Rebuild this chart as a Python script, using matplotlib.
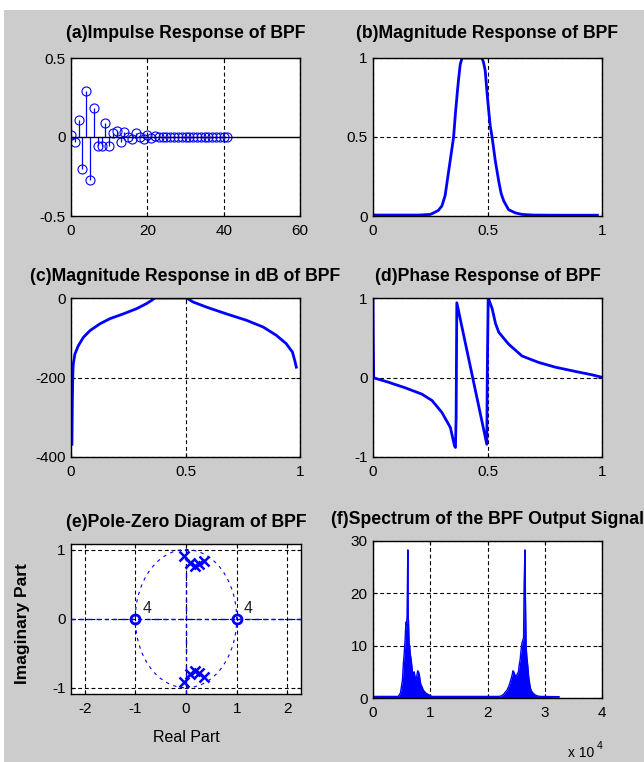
import matplotlib
matplotlib.use('Agg')
import matplotlib.pyplot as plt
import numpy as np
from matplotlib.patches import Rectangle, Circle

plt.rcParams['font.family'] = ['Liberation Sans', 'DejaVu Sans']

# ---------------- data ----------------
# (a) impulse response
h_vals = [0.01, -0.033, 0.105, -0.205, 0.29, -0.275, 0.185, -0.055, -0.06, 0.09,
          -0.06, 0.025, 0.036, -0.033, 0.03, 0.0, -0.015, 0.028, 0.0, -0.01,
          0.01, -0.006, 0.004, -0.003, 0.002, 0.0, 0.0, 0.0, 0.0, 0.0,
          0.0, 0.0, 0.0, 0.0, 0.0, 0.0, 0.0, 0.0, 0.0, 0.0, 0.0, 0.0]
h_n = list(range(len(h_vals)))

# (b) magnitude response
mag_w = [0.0, 0.1, 0.2, 0.25, 0.265, 0.285, 0.301, 0.315, 0.323, 0.335, 0.345, 0.352,
         0.36, 0.368, 0.374, 0.381, 0.389, 0.476, 0.483, 0.49, 0.498, 0.505, 0.512,
         0.52, 0.534, 0.549, 0.56, 0.571, 0.592, 0.621, 0.651, 0.7, 0.8, 0.9, 0.98]
mag_h = [0.006, 0.006, 0.006, 0.01, 0.02, 0.035, 0.064, 0.13, 0.21, 0.33, 0.43, 0.5,
         0.65, 0.78, 0.87, 0.96, 1.0, 1.0, 0.97, 0.92, 0.78, 0.67, 0.57,
         0.5, 0.35, 0.22, 0.14, 0.095, 0.04, 0.02, 0.01, 0.006, 0.005, 0.005, 0.005]

# (c) magnitude response in dB
db_w = [0.004, 0.006, 0.008, 0.01, 0.017, 0.032, 0.054, 0.083, 0.126, 0.17, 0.228,
        0.286, 0.33, 0.352, 0.366, 0.505, 0.533, 0.592, 0.679, 0.766, 0.839, 0.897,
        0.94, 0.967, 0.977, 0.984]
db_h = [-368, -259, -190, -166, -141, -120, -99, -82, -65, -52, -40,
        -27, -14, -6, 0, 0, -10, -23, -40, -56, -73, -94,
        -115, -136, -157, -174]

# (d) phase response (normalised)
ph_w = [0.0, 0.001, 0.003, 0.01, 0.068, 0.141, 0.214, 0.258, 0.301, 0.338, 0.348,
        0.356, 0.36, 0.363, 0.364, 0.366, 0.497, 0.499, 0.503, 0.52, 0.535, 0.549,
        0.592, 0.651, 0.723, 0.796, 0.884, 0.956, 0.993, 1.0]
ph_h = [1.0, 0.5, 0.0, -0.01, -0.06, -0.13, -0.21, -0.29, -0.44, -0.63, -0.76,
        -0.86, -0.88, -0.5, 0.0, 0.94, -0.84, 0.05, 1.0, 0.87, 0.68, 0.57,
        0.42, 0.27, 0.19, 0.13, 0.076, 0.034, 0.008, 0.0]

# (e) poles and zeros
zero_re = [-1.0, 1.0]
zero_im = [0.0, 0.0]
zero_mult = ['4', '4']
pole_re = [-0.04, 0.07, 0.17, 0.26, 0.35, -0.04, 0.07, 0.17, 0.26, 0.35]
pole_im = [0.91, 0.80, 0.76, 0.79, 0.84, -0.91, -0.80, -0.76, -0.79, -0.84]

# (f) spectrum of output signal
spec_f = [0, 4400, 4600, 4800, 5000, 5150, 5300, 5450, 5600, 5750, 5850, 5950, 6080,
          6150, 6200, 6300, 6400, 6500, 6600, 6750, 6900, 7050, 7200, 7350, 7500,
          7650, 7800, 7950, 8100, 8250, 8400, 8550, 8750, 9000, 9300, 9600, 9950,
          10300, 22000, 22400, 22800, 23100, 23400, 23700, 23900, 24100, 24300,
          24450, 24600, 24800, 25000, 25200, 25400, 25550, 25700, 25850, 26000,
          26150, 26300, 26400, 26550, 26620, 26680, 26750, 26900, 27050, 27200,
          27400, 27600, 27900, 28300, 28700, 29200, 32500]
spec_a = [0.3, 0.3, 0.6, 1.0, 2.4, 3.5, 6.5, 8.5, 11.0, 14.5, 14.0, 15.5, 28.3,
          15.2, 14.8, 10.5, 10.0, 8.5, 7.8, 6.5, 5.0, 4.6, 5.0, 4.0, 3.4,
          4.2, 5.2, 5.0, 4.4, 3.2, 2.4, 2.2, 1.6, 1.2, 0.9, 0.7, 0.5,
          0.3, 0.3, 0.4, 0.7, 1.1, 1.5, 2.2, 2.8, 3.6, 4.4,
          5.2, 5.0, 4.4, 4.0, 4.6, 5.0, 6.4, 7.3, 9.0, 10.4,
          11.0, 11.5, 22.0, 28.3, 20.0, 15.0, 9.8, 7.5, 6.0, 4.0,
          2.5, 1.5, 1.0, 0.6, 0.4, 0.3, 0.25]

titles = ['(a)Impulse Response of BPF', '(b)Magnitude Response of BPF',
          '(c)Magnitude Response in dB of BPF', '(d)Phase Response of BPF',
          '(e)Pole-Zero Diagram of BPF', '(f)Spectrum of the BPF Output Signal']

# ---------------- figure ----------------
W, H = 644, 762
fig = plt.figure(figsize=(W / 100, H / 100), dpi=100, facecolor='white')
fig.patches.append(Rectangle((4 / W, 0), 1, 1 - 10 / H, transform=fig.transFigure,
                             facecolor='#cccccc', edgecolor='none', zorder=-10))


def px_axes(l, t, r, b):
    return fig.add_axes([l / W, 1 - b / H, (r - l) / W, (b - t) / H])


BLUE = '#0000ff'
GRID = dict(color='black', linestyle=(0, (3.5, 2.5)), linewidth=0.8)


def style(ax, xt, xl, yt, yl, xlim, ylim, title, pad, xg=True, yg=True):
    ax.set_xlim(*xlim)
    ax.set_ylim(*ylim)
    ax.set_xticks(xt)
    ax.set_xticklabels(xl)
    ax.set_yticks(yt)
    ax.set_yticklabels(yl)
    ax.tick_params(direction='in', length=3, width=0.8, labelsize=11,
                   top=True, right=True, colors='black')
    ax.tick_params(axis='x', pad=6)
    ax.tick_params(axis='y', pad=4)
    for s in ax.spines.values():
        s.set_linewidth(1.0)
        s.set_color('black')
    ax.set_axisbelow(True)
    if xg:
        ax.xaxis.grid(True, **GRID)
    if yg:
        ax.yaxis.grid(True, **GRID)
    ax.set_title(title, fontsize=12.7, fontweight='bold', pad=pad)


# (a)
axa = px_axes(71, 58, 300, 216)
ml, sl, bl = axa.stem(h_n, h_vals, linefmt='-', markerfmt='o')
plt.setp(sl, color=BLUE, linewidth=0.9)
plt.setp(ml, markerfacecolor='none', markeredgecolor=BLUE, markersize=6.5,
         markeredgewidth=0.8)
bl.set_visible(False)
axa.axhline(0, color='black', linewidth=1.0, zorder=5)
style(axa, [0, 20, 40, 60], ['0', '20', '40', '60'], [-0.5, 0, 0.5],
      ['-0.5', '0', '0.5'], (0, 60), (-0.5, 0.5), titles[0], 14.5, yg=False)

# (b)
axb = px_axes(373, 58, 602, 216)
axb.plot(mag_w, mag_h, color=BLUE, linewidth=2.0)
style(axb, [0, 0.5, 1], ['0', '0.5', '1'], [0, 0.5, 1], ['0', '0.5', '1'],
      (0, 1), (0, 1), titles[1], 14.5)

# (c)
axc = px_axes(71, 298, 300, 457)
axc.plot(db_w, db_h, color=BLUE, linewidth=2.0)
style(axc, [0, 0.5, 1], ['0', '0.5', '1'], [-400, -200, 0], ['-400', '-200', '0'],
      (0, 1), (-400, 0), titles[2], 12.5)

# (d)
axd = px_axes(373, 298, 602, 457)
axd.plot(ph_w, ph_h, color=BLUE, linewidth=2.0)
style(axd, [0, 0.5, 1], ['0', '0.5', '1'], [-1, 0, 1], ['-1', '0', '1'],
      (0, 1), (-1, 1), titles[3], 12.5)

# (e)
axe = px_axes(71, 544, 301, 694)
axe.add_patch(Circle((0, 0), 1.0, fill=False, edgecolor=BLUE, linewidth=0.8,
                     linestyle=(0, (3, 4))))
axe.axhline(0, color=BLUE, linewidth=1.0, linestyle=(0, (3, 3)), zorder=3)
axe.axvline(0, color=BLUE, linewidth=1.0, linestyle=(0, (3, 3)), zorder=3)
axe.plot(zero_re, zero_im, 'o', markerfacecolor='none', markeredgecolor=BLUE,
         markersize=6.5, markeredgewidth=2.0, zorder=4)
for zr, zi, m in zip(zero_re, zero_im, zero_mult):
    axe.annotate(m, (zr, zi), xytext=(5, 4), textcoords='offset points',
                 fontsize=11.5, color='#222222')
axe.plot(pole_re, pole_im, 'x', color=BLUE, markersize=6.5, markeredgewidth=1.8,
         zorder=4)
style(axe, [-2, -1, 0, 1, 2], ['-2', '-1', '0', '1', '2'], [-1, 0, 1],
      ['-1', '0', '1'], (-2.27, 2.27), (-1.09, 1.08), titles[4], 12.5)
axe.set_xlabel('Real Part', fontsize=11.5)
axe.set_ylabel('Imaginary Part', fontsize=12.5, fontweight='bold')
axe.xaxis.set_label_coords(0.5, -0.24)
axe.yaxis.set_label_coords(-0.18, 0.47)

# (f)
axf = px_axes(373, 541, 602, 698)
axf.fill_between(spec_f, 0, spec_a, color=BLUE, linewidth=0)
axf.plot(spec_f, spec_a, color=BLUE, linewidth=1.0)
style(axf, [0, 10000, 20000, 30000, 40000], ['0', '1', '2', '3', '4'],
      [0, 10, 20, 30], ['0', '10', '20', '30'], (0, 40000), (0, 30), titles[5], 12.5)
fig.text(568 / W, 1 - 757 / H, 'x 10', fontsize=10, va='baseline', ha='left')
fig.text(597 / W, 1 - 749 / H, '4', fontsize=7.5, va='baseline', ha='left')

fig.savefig('out.png', dpi=100, facecolor=fig.get_facecolor())
